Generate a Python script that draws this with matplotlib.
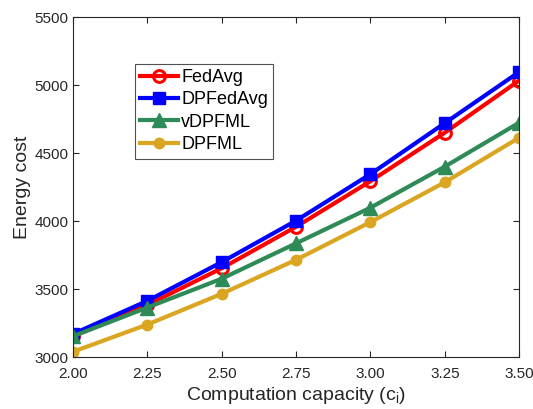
import matplotlib
matplotlib.use("Agg")
import matplotlib.pyplot as plt

plt.rcParams['font.family'] = ['Liberation Sans', 'DejaVu Sans']
plt.rcParams['mathtext.fontset'] = 'custom'
plt.rcParams['mathtext.rm'] = 'Liberation Sans'

capacity = [2.00, 2.25, 2.50, 2.75, 3.00, 3.25, 3.50]
fedavg = [3156, 3385, 3655, 3960, 4295, 4652, 5035]
dpfedavg = [3172, 3415, 3700, 4005, 4347, 4722, 5098]
vdpfml = [3155, 3366, 3578, 3838, 4100, 4402, 4725]
dpfml = [3041, 3241, 3467, 3717, 3994, 4287, 4615]

xticks = [2.00, 2.25, 2.50, 2.75, 3.00, 3.25, 3.50]
yticks = [3000, 3500, 4000, 4500, 5000, 5500]

fig = plt.figure(figsize=(5.33, 4.09), dpi=100)
ax = fig.add_axes([0.137, 0.1264, 0.837, 0.8313])

lw = 3.0
ax.plot(capacity, fedavg, color='#FF0000', lw=lw, marker='o', ms=8.5,
        mfc='none', mew=2.2, label='FedAvg')
ax.plot(capacity, dpfedavg, color='#0000FF', lw=lw, marker='s', ms=8.5,
        label='DPFedAvg')
ax.plot(capacity, vdpfml, color='#2E8B57', lw=lw, marker='^', ms=10.5,
        label='vDPFML')
ax.plot(capacity, dpfml, color='#DAA520', lw=lw, marker='o', ms=7.5,
        label='DPFML')

ax.set_xlim(2.0, 3.5)
ax.set_ylim(3000, 5500)
ax.set_xticks(xticks)
ax.set_xticklabels([f"{t:.2f}" for t in xticks])
ax.set_yticks(yticks)

edge = '#262626'
for s in ax.spines.values():
    s.set_color(edge)
    s.set_linewidth(0.8)
ax.tick_params(direction='in', top=True, right=True, length=4, width=0.8,
               color=edge, labelcolor=edge, labelsize=11)
ax.tick_params(axis='x', pad=7)

ax.set_xlabel(r'Computation capacity (c$_\mathregular{i}$)', fontsize=14,
              color=edge, labelpad=3)
ax.set_ylabel('Energy cost', fontsize=14, color=edge, labelpad=2)

leg = ax.legend(loc='upper left', bbox_to_anchor=(0.139, 0.864), fontsize=13,
                frameon=True, fancybox=False, edgecolor=edge, handlelength=2.1,
                handletextpad=0.15, borderpad=0.3, labelspacing=0.3,
                borderaxespad=0)
leg.get_frame().set_linewidth(0.8)

fig.savefig('out.png', dpi=100)
